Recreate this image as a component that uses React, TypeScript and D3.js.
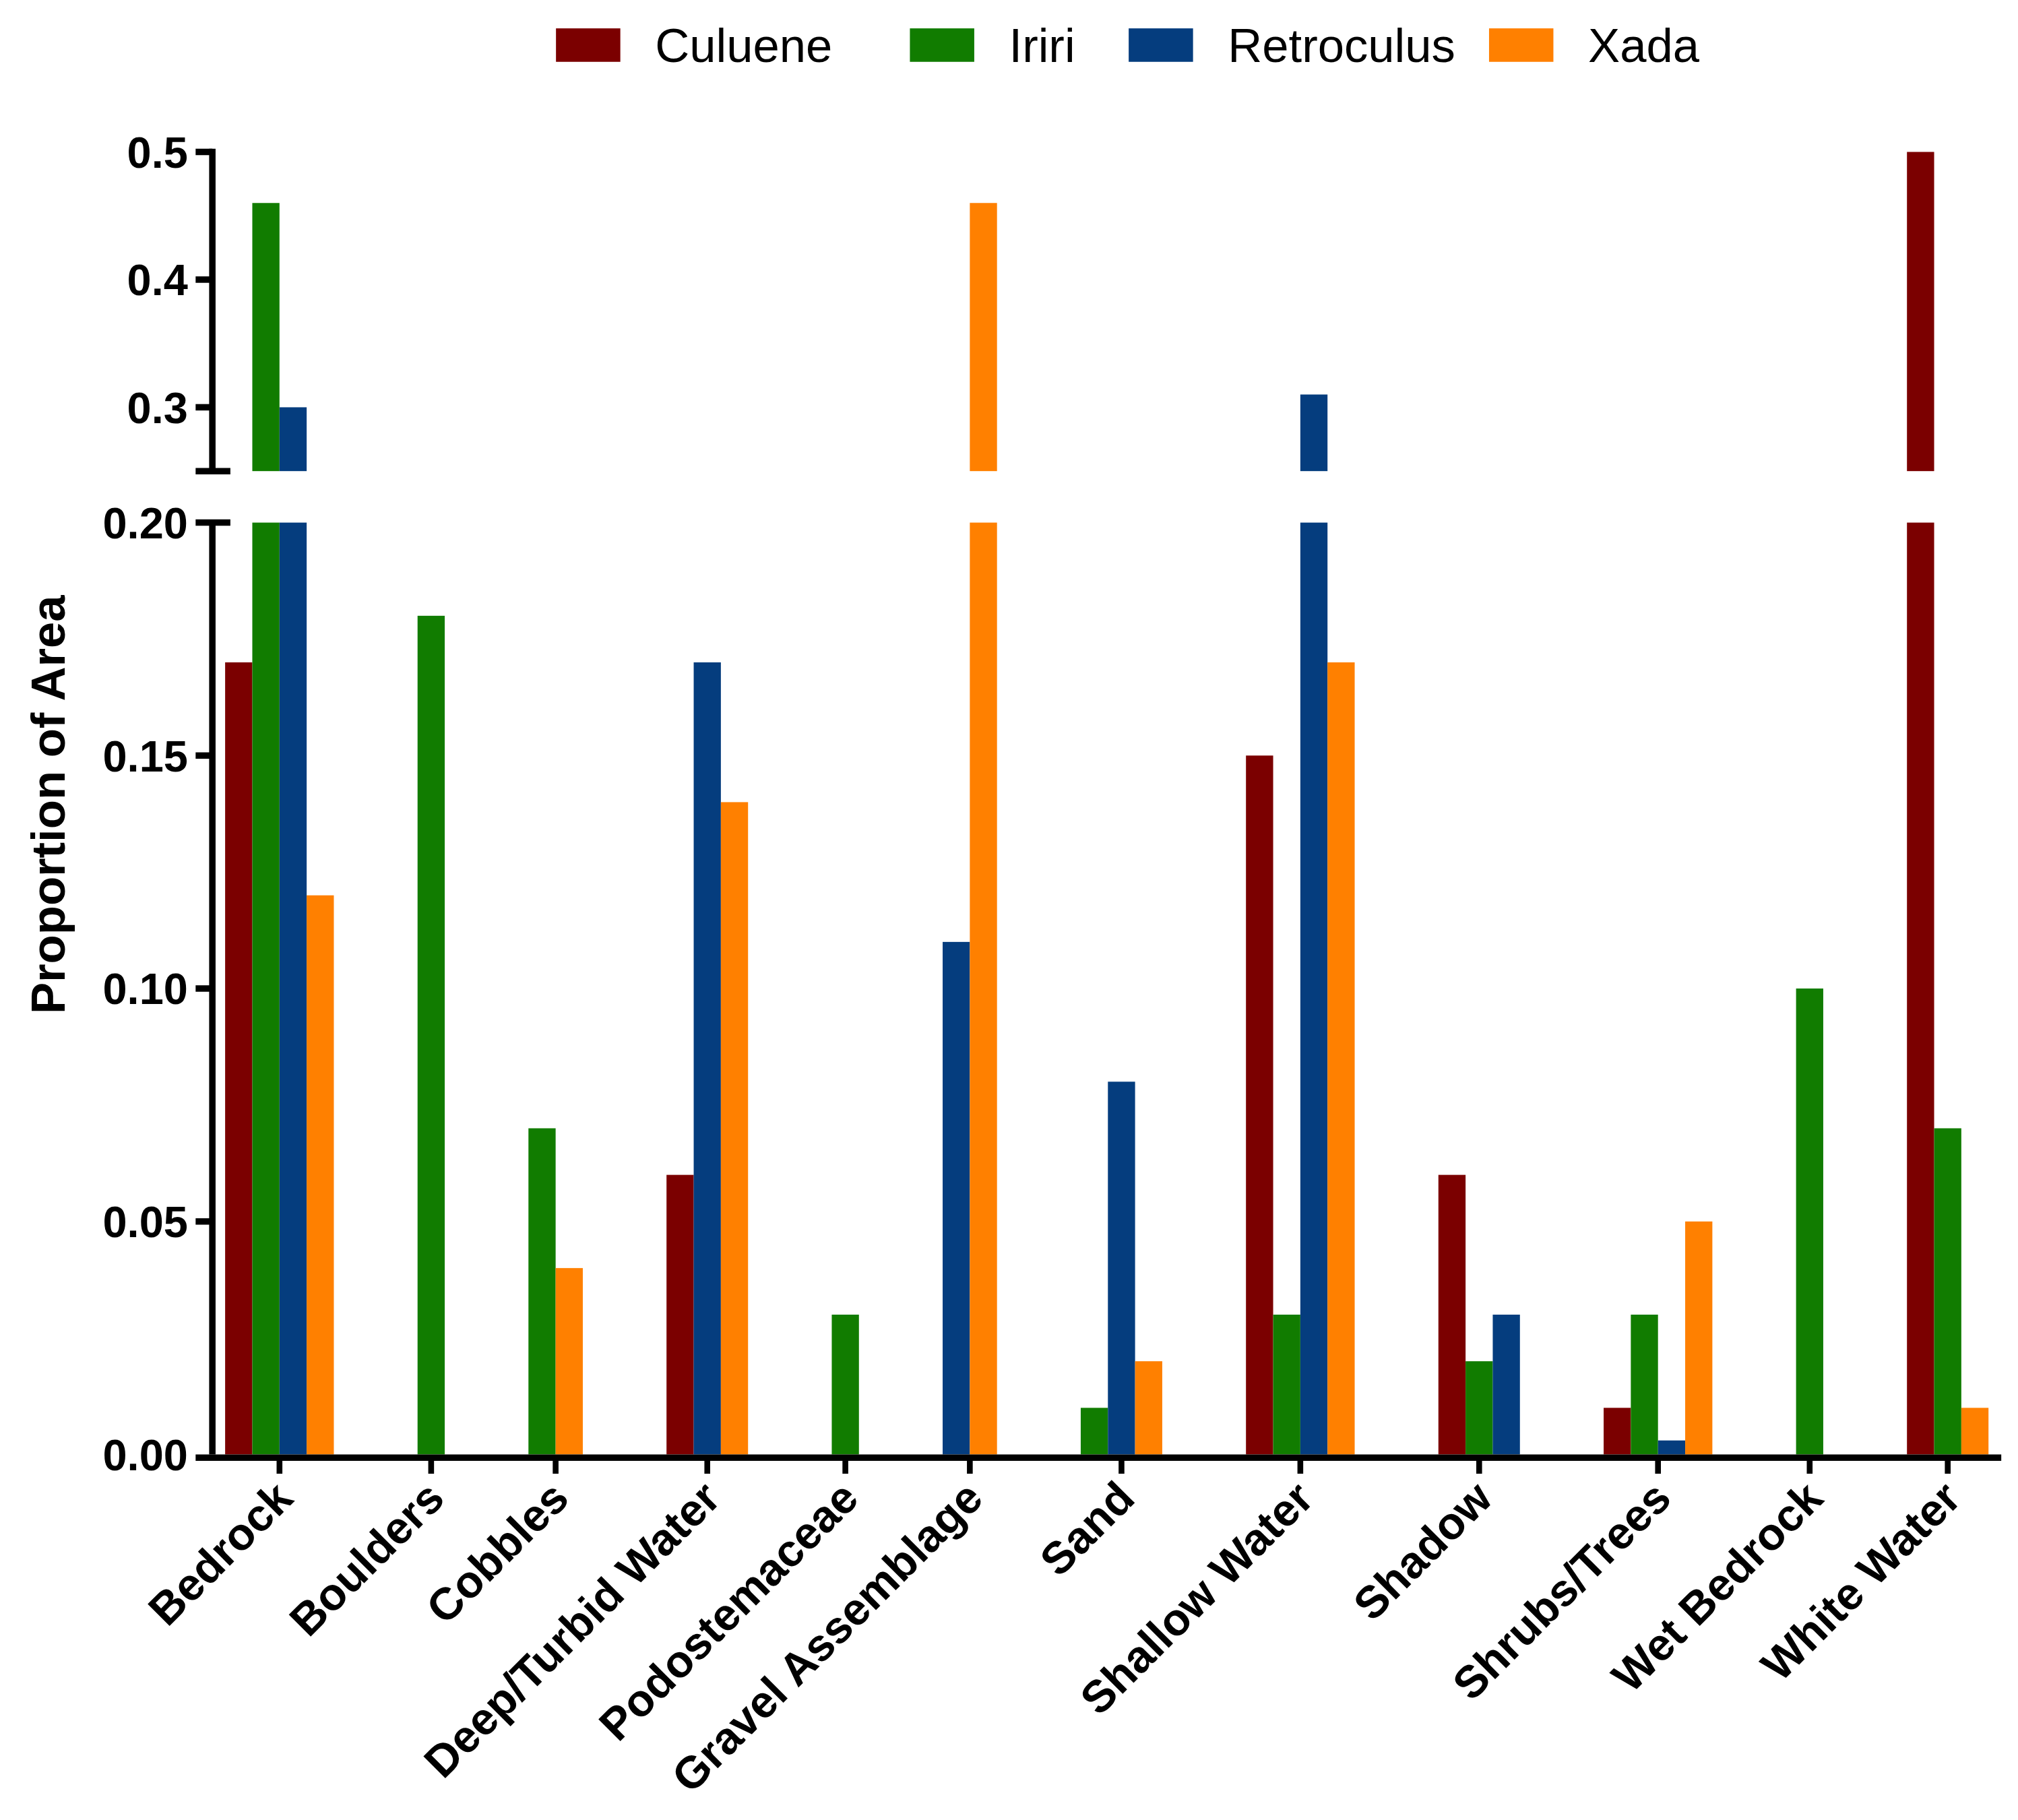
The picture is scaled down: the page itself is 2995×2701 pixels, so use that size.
import { useEffect, useRef } from 'react';
import * as d3 from 'd3';

// Habitat categories along the x axis
const categories = [
  'Bedrock',
  'Boulders',
  'Cobbles',
  'Deep/Turbid Water',
  'Podostemaceae',
  'Gravel Assemblage',
  'Sand',
  'Shallow Water',
  'Shadow',
  'Shrubs/Trees',
  'Wet Bedrock',
  'White Water',
];

const seriesNames = ['Culuene', 'Iriri', 'Retroculus', 'Xada'];
const seriesColors = ['#7b0000', '#117c00', '#053d7e', '#ff8000'];

// proportion of area per river, same order as categories (0 = no bar)
const culuene = [0.17, 0, 0, 0.06, 0, 0, 0, 0.15, 0.06, 0.01, 0, 0.5];
const iriri = [0.46, 0.18, 0.07, 0, 0.03, 0, 0.01, 0.03, 0.02, 0.03, 0.1, 0.07];
const retroculus = [0.3, 0, 0, 0.17, 0, 0.11, 0.08, 0.31, 0.03, 0.003, 0, 0];
const xada = [0.12, 0, 0.04, 0.14, 0, 0.46, 0.02, 0.17, 0, 0.05, 0, 0.01];

const lowerTicks = [0, 0.05, 0.1, 0.15, 0.2];
const upperTicks = [0.3, 0.4, 0.5];

const W = 1568;
const H = 1414;
const FONT = "'Liberation Sans', Arial, Helvetica, sans-serif";

export default function App() {
  const svgRef = useRef<SVGSVGElement>(null);

  useEffect(() => {
    if (!svgRef.current) return;
    document.body.style.margin = '0';

    const svg = d3.select(svgRef.current);
    svg.selectAll('*').remove();

    const axisX = 165;
    const xEnd = 1555;
    const baseY = 1130;

    const seriesValues = [culuene, iriri, retroculus, xada];

    // y scales for the two pieces of the broken axis
    const yLow = d3.scaleLinear().domain([0, 0.2]).range([baseY, 406]);
    const yHigh = d3.scaleLinear().domain([0.25, 0.5]).range([366, 118]);

    // groups only hold the series that have a value, Prism style
    const groups = categories.map((c, i) => ({
      name: c,
      present: seriesNames
        .map((s, j) => ({ s, j, v: seriesValues[j][i] }))
        .filter((d) => d.v > 0),
    }));

    const edge = 0.47;
    const gap = 3.08;
    let cursor = edge;
    const layout = groups.map((g) => {
      const start = cursor;
      cursor += g.present.length;
      const end = cursor;
      cursor += gap;
      return { ...g, start, end };
    });
    const totalUnits = cursor - gap + edge;
    const x = d3.scaleLinear().domain([0, totalUnits]).range([axisX, xEnd]);

    const root = svg.append('g');

    // bars
    layout.forEach((g) => {
      const inner = d3
        .scaleBand()
        .domain(g.present.map((d) => d.s))
        .range([x(g.start), x(g.end)])
        .padding(0);
      const gg = root.append('g');
      g.present.forEach((d) => {
        const bx = inner(d.s) || 0;
        const bw = inner.bandwidth();
        const color = seriesColors[d.j];
        const lowTop = yLow(Math.min(d.v, 0.2));
        gg.append('rect')
          .attr('x', bx)
          .attr('y', lowTop)
          .attr('width', bw)
          .attr('height', baseY - lowTop)
          .attr('fill', color);
        if (d.v > 0.25) {
          const hiTop = yHigh(d.v);
          gg.append('rect')
            .attr('x', bx)
            .attr('y', hiTop)
            .attr('width', bw)
            .attr('height', yHigh(0.25) - hiTop)
            .attr('fill', color);
        }
      });
    });

    const axisStroke = 5;
    const tickLen = 13;
    const tickFont = 34;

    // lower y axis
    const lowAxis = root.append('g');
    lowAxis
      .append('line')
      .attr('x1', axisX)
      .attr('x2', axisX)
      .attr('y1', yLow(0.2))
      .attr('y2', baseY)
      .attr('stroke', '#000')
      .attr('stroke-width', axisStroke);
    lowerTicks.forEach((t) => {
      const isCap = t === 0.2;
      if (t > 0) {
        lowAxis
          .append('line')
          .attr('x1', axisX - tickLen)
          .attr('x2', isCap ? axisX + 14 : axisX)
          .attr('y1', yLow(t))
          .attr('y2', yLow(t))
          .attr('stroke', '#000')
          .attr('stroke-width', axisStroke);
      }
      lowAxis
        .append('text')
        .attr('x', axisX - 19)
        .attr('y', yLow(t))
        .attr('dy', '0.36em')
        .attr('text-anchor', 'end')
        .attr('font-family', FONT)
        .attr('font-weight', 'bold')
        .attr('font-size', tickFont)
        .text(d3.format('.2f')(t));
    });

    // upper y axis
    const hiAxis = root.append('g');
    hiAxis
      .append('line')
      .attr('x1', axisX)
      .attr('x2', axisX)
      .attr('y1', yHigh(0.5) - axisStroke / 2)
      .attr('y2', yHigh(0.25))
      .attr('stroke', '#000')
      .attr('stroke-width', axisStroke);
    hiAxis
      .append('line')
      .attr('x1', axisX - tickLen)
      .attr('x2', axisX + 14)
      .attr('y1', yHigh(0.25))
      .attr('y2', yHigh(0.25))
      .attr('stroke', '#000')
      .attr('stroke-width', axisStroke);
    upperTicks.forEach((t) => {
      hiAxis
        .append('line')
        .attr('x1', axisX - tickLen)
        .attr('x2', axisX)
        .attr('y1', yHigh(t))
        .attr('y2', yHigh(t))
        .attr('stroke', '#000')
        .attr('stroke-width', axisStroke);
      hiAxis
        .append('text')
        .attr('x', axisX - 19)
        .attr('y', yHigh(t))
        .attr('dy', '0.36em')
        .attr('text-anchor', 'end')
        .attr('font-family', FONT)
        .attr('font-weight', 'bold')
        .attr('font-size', tickFont)
        .text(d3.format('.1f')(t));
    });

    // x axis
    const xAxis = root.append('g');
    xAxis
      .append('line')
      .attr('x1', axisX - tickLen)
      .attr('x2', xEnd)
      .attr('y1', baseY + axisStroke / 2)
      .attr('y2', baseY + axisStroke / 2)
      .attr('stroke', '#000')
      .attr('stroke-width', axisStroke);
    layout.forEach((g) => {
      const cx = x((g.start + g.end) / 2);
      xAxis
        .append('line')
        .attr('x1', cx)
        .attr('x2', cx)
        .attr('y1', baseY + axisStroke)
        .attr('y2', baseY + axisStroke + 10)
        .attr('stroke', '#000')
        .attr('stroke-width', 4.5);
      xAxis
        .append('text')
        .attr('transform', `translate(${cx + 12},${baseY + 36}) rotate(-45)`)
        .attr('text-anchor', 'end')
        .attr('font-family', FONT)
        .attr('font-weight', 'bold')
        .attr('font-size', 35)
        .text(g.name);
    });

    // y axis title
    root
      .append('text')
      .attr('transform', `translate(50,${(yLow(0.1) + yHigh(0.3)) / 2 + 83}) rotate(-90)`)
      .attr('text-anchor', 'middle')
      .attr('font-family', FONT)
      .attr('font-weight', 'bold')
      .attr('font-size', 37)
      .text('Proportion of Area');

    // legend
    const legendX = [432, 707, 877, 1157];
    const legend = root.append('g');
    seriesNames.forEach((s, i) => {
      legend
        .append('rect')
        .attr('x', legendX[i])
        .attr('y', 22)
        .attr('width', 50)
        .attr('height', 26)
        .attr('fill', seriesColors[i]);
      legend
        .append('text')
        .attr('x', legendX[i] + 77)
        .attr('y', 35)
        .attr('dy', '0.36em')
        .attr('font-family', FONT)
        .attr('font-size', 37)
        .text(s);
    });
  }, []);

  return (
    <svg
      ref={svgRef}
      width={2995}
      height={2701}
      viewBox={`0 0 ${W} ${H}`}
      style={{ display: 'block', background: '#fff' }}
    />
  );
}
